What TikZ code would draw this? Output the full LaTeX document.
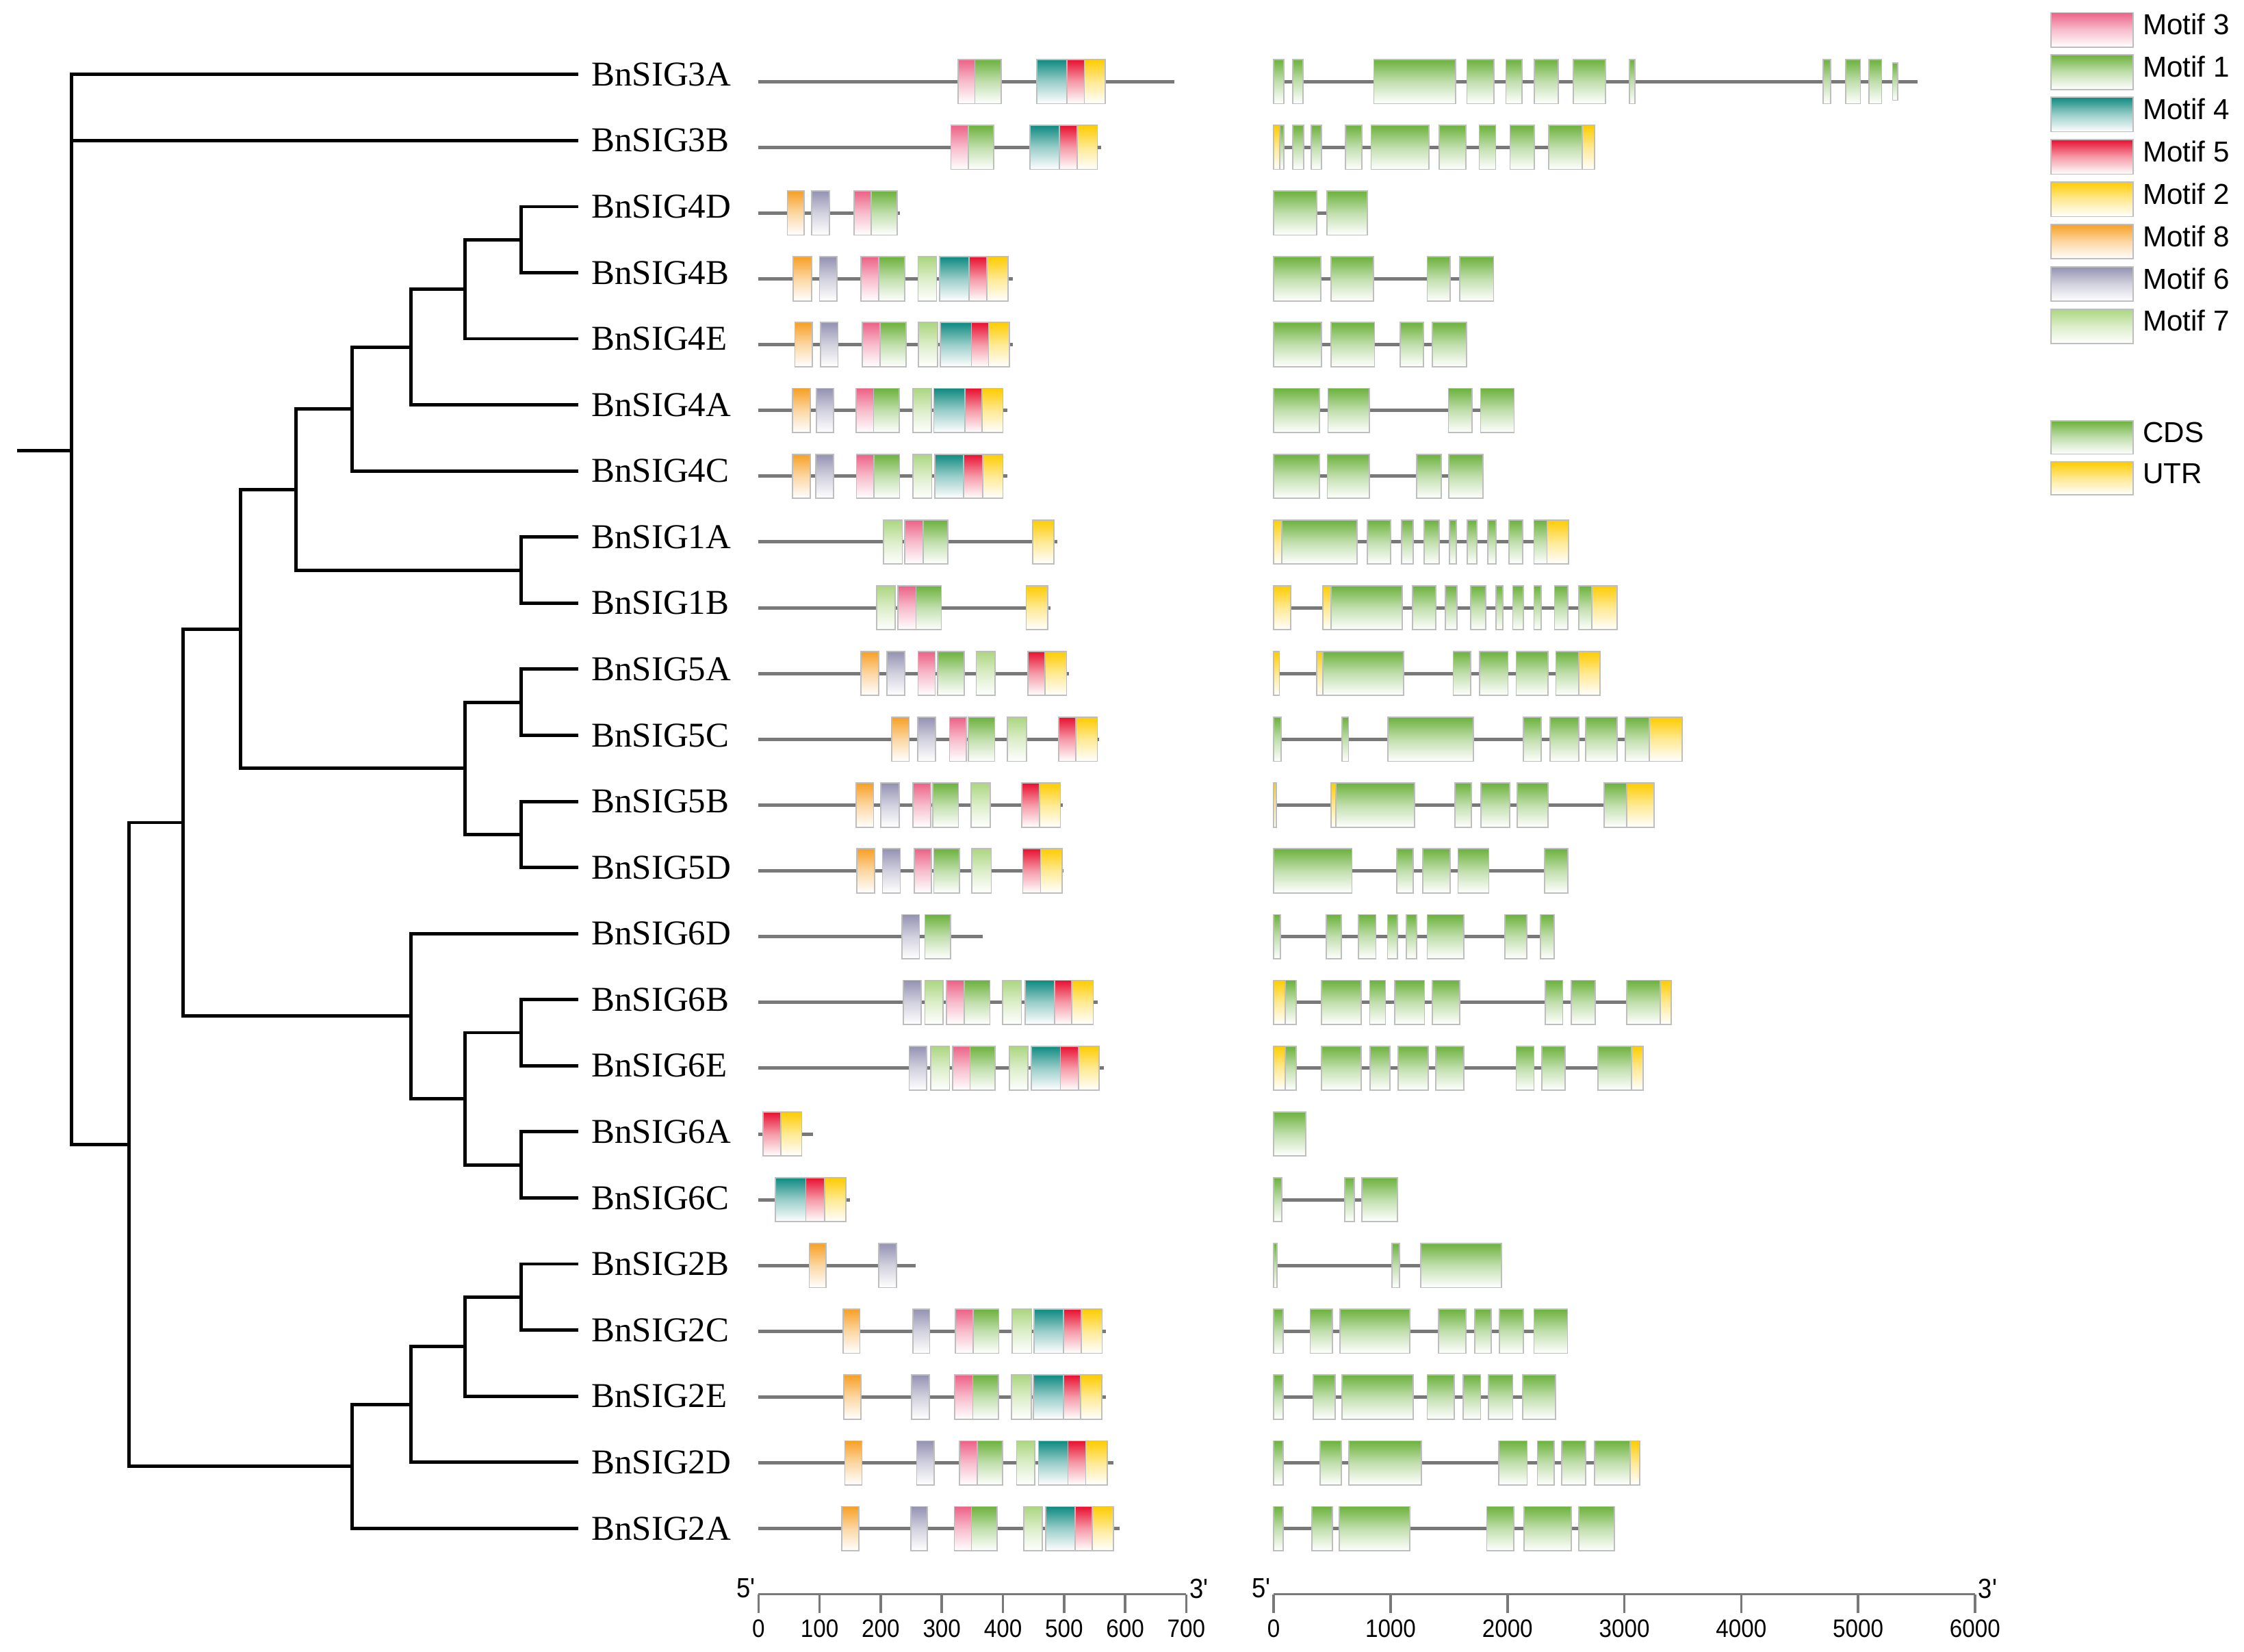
\documentclass[tikz,border=0pt]{standalone}
\usepackage{fontspec}
\setmainfont{Liberation Serif}
\setsansfont{Liberation Sans}

% motif colours
\definecolor{pk}{RGB}{236,98,134}   % motif 3
\definecolor{gn}{RGB}{108,178,60}   % motif 1 / CDS
\definecolor{tl}{RGB}{14,138,128}   % motif 4
\definecolor{rd}{RGB}{232,16,48}    % motif 5
\definecolor{yw}{RGB}{255,204,0}    % motif 2 / UTR
\definecolor{og}{RGB}{247,160,36}   % motif 8
\definecolor{gy}{RGB}{148,146,178}  % motif 6
\definecolor{lg}{RGB}{172,214,128}  % motif 7
\definecolor{edge}{RGB}{190,190,190}
\definecolor{intron}{RGB}{120,120,120}

\tikzset{
  branch/.style={line width=1.4pt, black},
  leaf/.style={anchor=west, inner xsep=5.3pt, inner ysep=0pt, font=\fontsize{14.5}{16}\selectfont},
  geneline/.style={line width=1.4pt, intron},
  box/.style={draw=edge, line width=0.5pt, top color=#1, bottom color=white, middle color=#1!42},
  axis/.style={line width=1pt, intron},
  legtext/.style={anchor=west, inner sep=0pt, font=\sffamily\fontsize{12}{14}\selectfont},
  ticktext/.style={inner sep=0pt, font=\sffamily\fontsize{10.5}{12}\selectfont},
  endtext/.style={inner sep=0pt, font=\sffamily\fontsize{11.5}{13}\selectfont}
}

% protein row: y, end of line, boxes
\newcommand{\protrow}[3]{%
  \draw[geneline] (530,#1) -- (#2,#1);
  \foreach \a/\b/\c in {#3}
    \draw[box=\c] (\a,#1-15.4) rectangle (\b,#1+15.4);
}
% gene row: y, end of line, exons
\newcommand{\generow}[3]{%
  \draw[geneline] (890,#1) -- (#2,#1);
  \foreach \a/\b/\c in {#3}
    \draw[box=\c] (\a,#1-15.4) rectangle (\b,#1+15.4);
}
\newcommand{\tick}[1]{\scalebox{0.9}[1]{#1}}

\begin{document}
\begin{tikzpicture}[x=0.020912cm, y=-0.020912cm]
\useasboundingbox (0,0) rectangle (1568,1154);

% gene names
\node[leaf] (l3A) at (404,52.0) {BnSIG3A};
\node[leaf] (l3B) at (404,98.2) {BnSIG3B};
\node[leaf] (l4D) at (404,144.4) {BnSIG4D};
\node[leaf] (l4B) at (404,190.5) {BnSIG4B};
\node[leaf] (l4E) at (404,236.7) {BnSIG4E};
\node[leaf] (l4A) at (404,282.9) {BnSIG4A};
\node[leaf] (l4C) at (404,329.1) {BnSIG4C};
\node[leaf] (l1A) at (404,375.3) {BnSIG1A};
\node[leaf] (l1B) at (404,421.4) {BnSIG1B};
\node[leaf] (l5A) at (404,467.6) {BnSIG5A};
\node[leaf] (l5C) at (404,513.8) {BnSIG5C};
\node[leaf] (l5B) at (404,560.0) {BnSIG5B};
\node[leaf] (l5D) at (404,606.2) {BnSIG5D};
\node[leaf] (l6D) at (404,652.3) {BnSIG6D};
\node[leaf] (l6B) at (404,698.5) {BnSIG6B};
\node[leaf] (l6E) at (404,744.7) {BnSIG6E};
\node[leaf] (l6A) at (404,790.9) {BnSIG6A};
\node[leaf] (l6C) at (404,837.1) {BnSIG6C};
\node[leaf] (l2B) at (404,883.2) {BnSIG2B};
\node[leaf] (l2C) at (404,929.4) {BnSIG2C};
\node[leaf] (l2E) at (404,975.6) {BnSIG2E};
\node[leaf] (l2D) at (404,1021.8) {BnSIG2D};
\node[leaf] (l2A) at (404,1068.0) {BnSIG2A};

% tree
\coordinate (root) at (12,315);
\coordinate (n1) at (50,315);
\coordinate (n2) at (90,799.8);
\coordinate (n3) at (128,574.8);
\coordinate (n4) at (168,439.5);
\coordinate (n5) at (207,342);
\coordinate (n6) at (246,285.8);
\coordinate (n7) at (287,242.5);
\coordinate (n8) at (325,202);
\coordinate (n9) at (364,167.5);
\coordinate (n10) at (364,398.4);
\coordinate (n11) at (325,536.9);
\coordinate (n12) at (364,490.7);
\coordinate (n13) at (364,583.1);
\coordinate (n14) at (287,710);
\coordinate (n15) at (325,767.8);
\coordinate (n16) at (364,721.6);
\coordinate (n17) at (364,814);
\coordinate (n18) at (246,1024.7);
\coordinate (n19) at (287,981.4);
\coordinate (n20) at (325,940.8);
\coordinate (n21) at (364,906.3);
\draw[branch] (root) -- (n1);
\draw[branch] (l3A.west) -| (n1) |- (n2);
\draw[branch] (l3B.west) -- (l3B.west -| n1);
\draw[branch] (n3) -| (n2) |- (n18);
\draw[branch] (n4) -| (n3) |- (n14);
\draw[branch] (n5) -| (n4) |- (n11);
\draw[branch] (n6) -| (n5) |- (n10);
\draw[branch] (n7) -| (n6) |- (l4C.west);
\draw[branch] (n8) -| (n7) |- (l4A.west);
\draw[branch] (n9) -| (n8) |- (l4E.west);
\draw[branch] (l4D.west) -| (n9) |- (l4B.west);
\draw[branch] (l1A.west) -| (n10) |- (l1B.west);
\draw[branch] (n12) -| (n11) |- (n13);
\draw[branch] (l5A.west) -| (n12) |- (l5C.west);
\draw[branch] (l5B.west) -| (n13) |- (l5D.west);
\draw[branch] (l6D.west) -| (n14) |- (n15);
\draw[branch] (n16) -| (n15) |- (n17);
\draw[branch] (l6B.west) -| (n16) |- (l6E.west);
\draw[branch] (l6A.west) -| (n17) |- (l6C.west);
\draw[branch] (n19) -| (n18) |- (l2A.west);
\draw[branch] (n20) -| (n19) |- (l2D.west);
\draw[branch] (n21) -| (n20) |- (l2E.west);
\draw[branch] (l2B.west) -| (n21) |- (l2C.west);

% conserved motifs
\protrow{57.0}{820.6}{669.5/681.2/pk, 681.2/699.6/gn, 724.6/745.5/tl, 745.5/757.7/rd, 757.7/772.2/yw}
\protrow{103.0}{769.4}{664.4/676.5/pk, 676.5/694.2/gn, 719.7/740.2/tl, 740.2/752.7/rd, 752.7/766.8/yw}
\protrow{148.9}{628.9}{550.1/561.9/og, 567.2/579.6/gy, 596.7/608.6/pk, 608.6/627.0/gn}
\protrow{194.9}{707.9}{554.4/567.2/og, 572.6/584.7/gy, 601.7/613.9/pk, 613.9/632.2/gn, 641.5/654.4/lg, 656.4/677.2/tl, 677.2/689.6/rd, 689.6/704.5/yw}
\protrow{240.8}{707.9}{555.4/567.7/og, 573.5/585.5/gy, 602.5/614.9/pk, 614.9/633.2/gn, 641.9/655.0/lg, 657.0/678.8/tl, 678.8/690.7/rd, 690.7/705.4/yw}
\protrow{286.8}{703.7}{553.8/566.2/og, 570.4/582.6/gy, 598.1/610.4/pk, 610.4/628.4/gn, 637.8/650.8/lg, 652.5/674.1/tl, 674.1/686.3/rd, 686.3/700.8/yw}
\protrow{332.8}{703.7}{553.8/566.2/og, 570.1/582.6/gy, 598.4/610.8/pk, 610.8/628.6/gn, 638.0/651.0/lg, 653.1/673.4/tl, 673.4/686.5/rd, 686.5/700.8/yw}
\protrow{378.7}{739.0}{617.2/630.5/lg, 632.2/645.0/pk, 645.0/662.4/gn, 721.6/736.5/yw}
\protrow{424.7}{733.8}{612.7/625.5/lg, 627.4/640.0/pk, 640.0/657.7/gn, 717.0/732.0/yw}
\protrow{470.6}{746.9}{601.5/613.9/og, 619.9/632.2/gy, 641.5/653.5/pk, 655.2/673.6/gn, 682.1/695.4/lg, 718.2/730.3/rd, 730.3/745.2/yw}
\protrow{516.6}{768.0}{623.2/635.3/og, 641.3/653.7/gy, 663.5/675.3/pk, 676.7/695.0/gn, 703.9/717.2/lg, 739.8/751.8/rd, 751.8/766.8/yw}
\protrow{562.6}{742.7}{598.1/610.4/og, 615.6/628.2/gy, 638.0/650.2/pk, 651.9/669.7/gn, 678.4/691.9/lg, 713.9/726.5/rd, 726.5/741.0/yw}
\protrow{608.5}{743.1}{598.6/611.0/og, 616.6/629.0/gy, 638.8/650.8/pk, 652.5/670.5/gn, 679.2/692.7/lg, 714.7/727.1/rd, 727.1/742.1/yw}
\protrow{654.5}{686.5}{630.1/642.5/gy, 646.3/664.1/gn}
\protrow{700.4}{767.0}{631.1/643.6/gy, 646.3/659.1/lg, 661.4/673.6/pk, 673.6/691.7/gn, 700.6/713.7/lg, 716.2/736.9/tl, 736.9/748.9/rd, 748.9/763.9/yw}
\protrow{746.4}{771.1}{635.3/647.5/gy, 650.2/663.5/lg, 665.8/677.8/pk, 677.8/695.4/gn, 705.4/718.2/lg, 720.7/741.0/tl, 741.0/753.5/rd, 753.5/768.0/yw}
\protrow{792.4}{567.9}{533.2/545.5/rd, 545.5/560.2/yw}
\protrow{838.3}{593.8}{541.9/563.1/tl, 563.1/576.2/rd, 576.2/590.9/yw}
\protrow{884.3}{639.8}{565.4/577.2/og, 614.1/626.6/gy}
\protrow{930.2}{772.8}{589.0/600.8/og, 637.8/649.6/gy, 667.4/680.1/pk, 680.1/697.9/gn, 707.2/720.9/lg, 722.4/743.1/tl, 743.1/755.6/rd, 755.6/770.1/yw}
\protrow{976.2}{772.8}{589.6/601.7/og, 636.9/649.2/gy, 667.0/679.7/pk, 679.7/697.5/gn, 706.8/720.7/lg, 722.0/743.1/tl, 743.1/755.1/rd, 755.1/769.7/yw}
\protrow{1022.2}{777.8}{590.3/602.3/og, 640.5/652.7/gy, 670.5/683.0/pk, 683.0/700.6/gn, 710.3/723.2/lg, 725.7/746.2/tl, 746.2/758.7/rd, 758.7/773.6/yw}
\protrow{1068.1}{782.1}{588.2/600.2/og, 636.3/648.1/gy, 666.8/678.8/pk, 678.8/696.7/gn, 715.3/728.2/lg, 730.7/751.4/tl, 751.4/763.2/rd, 763.2/777.9/yw}

% gene structures
\generow{57.0}{1340.0}{890/896.9/gn, 903.3/910.3/gn, 960/1017/gn, 1025/1043.9/gn, 1052.2/1063.4/gn, 1072/1088.7/gn, 1099.3/1121.7/gn, 1138.6/1142.5/gn, 1273.8/1279.2/gn, 1289.8/1300/gn, 1305.8/1314.8/gn}
\draw[box=gn] (1322.4,57-13) rectangle (1326,57+13);
\generow{103.0}{1114.3}{890/894.3/yw, 894.3/896.9/gn, 903.3/911/gn, 916.1/923.5/gn, 940.1/951.6/gn, 958/998.4/gn, 1005.7/1024.3/gn, 1033.6/1045.1/gn, 1055.1/1072/gn, 1082.3/1105.7/gn, 1105.7/1114.3/yw}
\generow{148.9}{955.5}{890/920/gn, 927.3/955.5/gn}
\generow{194.9}{1043.6}{890/922.8/gn, 929.9/959.8/gn, 997.3/1013.4/gn, 1019.8/1043.6/gn}
\generow{240.8}{1024.8}{890/923.5/gn, 930.2/960.4/gn, 978.2/994.6/gn, 1000.7/1024.8/gn}
\generow{286.8}{1058.0}{890/921.8/gn, 927.9/956.7/gn, 1012.1/1028.5/gn, 1034.6/1058/gn}
\generow{332.8}{1036.2}{890/921.8/gn, 927.5/956.7/gn, 990/1007.1/gn, 1012.4/1036.2/gn}
\generow{378.7}{1096.0}{890/895.7/yw, 895.7/948.3/gn, 955.4/971.5/gn, 979.2/987.3/gn, 995/1005.7/gn, 1012.8/1017.5/gn, 1025.2/1031.9/gn, 1039.6/1045.3/gn, 1054.4/1064.1/gn, 1071.8/1080.9/gn, 1080.9/1096/yw}
\generow{424.7}{1129.8}{890/902/yw, 924.2/930.2/yw, 930.2/979.9/gn, 986.9/1003.4/gn, 1010.1/1018.1/gn, 1027.5/1038.3/gn, 1045.3/1050/gn, 1057/1064.4/gn, 1071.8/1076.8/gn, 1086.2/1095.6/gn, 1103/1112.4/gn, 1112.4/1129.8/yw}
\generow{470.6}{1118.1}{890/894/yw, 920.2/924.2/yw, 924.2/980.6/gn, 1015.4/1027.5/gn, 1033.9/1053.7/gn, 1059.4/1081.5/gn, 1087.2/1103/gn, 1103/1118.1/yw}
\generow{516.6}{1175.5}{890/895.3/gn, 937.6/942.3/gn, 969.8/1029.5/gn, 1064.4/1076.8/gn, 1083.2/1103/gn, 1108/1129.8/gn, 1135.6/1152.3/gn, 1152.3/1175.5/yw}
\generow{562.6}{1155.7}{890/892/yw, 930.2/933.6/yw, 933.6/988.3/gn, 1016.8/1028.2/gn, 1034.9/1054.7/gn, 1060.1/1081.5/gn, 1120.8/1136.6/gn, 1136.6/1155.7/yw}
\generow{608.5}{1095.6}{890/944.7/gn, 975.9/987.6/gn, 994/1013.1/gn, 1018.8/1040.3/gn, 1079.2/1095.6/gn}
\generow{654.5}{1085.9}{890/894.7/gn, 926.9/937.3/gn, 949.3/961.4/gn, 969.5/976.5/gn, 982.6/989.9/gn, 997.3/1022.8/gn, 1051.7/1066.8/gn, 1076.5/1085.9/gn}
\generow{700.4}{1167.8}{890/898/yw, 898/905.7/gn, 923.5/951/gn, 957.1/968.1/gn, 974.5/995.3/gn, 1000.7/1019.8/gn, 1079.9/1091.9/gn, 1098/1114.7/gn, 1136.6/1160/gn, 1160/1167.8/yw}
\generow{746.4}{1148.0}{890/898/yw, 898/905.7/gn, 923.5/951/gn, 957.4/971.2/gn, 976.9/998/gn, 1003.4/1022.8/gn, 1059.4/1071.8/gn, 1077.2/1093.6/gn, 1116.4/1139.9/gn, 1139.9/1148/yw}
\generow{792.4}{912.4}{890/912.4/gn}
\generow{838.3}{976.5}{890/895.7/gn, 939.6/946.3/gn, 951.7/976.5/gn}
\generow{884.3}{1049.3}{890/892.3/gn, 972.5/977.9/gn, 992.6/1049.3/gn}
\generow{930.2}{1095.3}{890/896.7/gn, 915.5/930.9/gn, 936.3/984.9/gn, 1005/1024.2/gn, 1030.5/1041.9/gn, 1047.7/1064.4/gn, 1071.8/1095.3/gn}
\generow{976.2}{1086.9}{890/896.7/gn, 917.8/932.9/gn, 937.9/987.3/gn, 997.3/1016.1/gn, 1022.5/1034.6/gn, 1040/1057/gn, 1063.8/1086.9/gn}
\generow{1022.2}{1145.6}{890/896.7/gn, 922.5/937.3/gn, 942.6/993.3/gn, 1047.3/1067.1/gn, 1074.2/1085.9/gn, 1091.3/1108/gn, 1114.1/1138.9/gn, 1138.9/1145.6/yw}
\generow{1068.1}{1128.2}{890/896.7/gn, 916.8/930.9/gn, 935.9/985.2/gn, 1038.9/1057.7/gn, 1065.1/1098/gn, 1103.3/1128.2/gn}

% scale bars
\draw[axis] (530,1114) -- (828.9,1114);
\foreach \k/\t in {0/0, 1/100, 2/200, 3/300, 4/400, 5/500, 6/600, 7/700} {
  \draw[axis] (530+42.7*\k,1114) -- (530+42.7*\k,1127);
  \node[ticktext] (pa\k) at (530+42.7*\k,1138) {\tick{\t}};
}
\node[endtext, anchor=east] (p5) at (528,1110) {\tick{5\textquotesingle}};
\node[endtext, anchor=west] (p3) at (831,1110) {\tick{3\textquotesingle}};
\draw[axis] (890,1114) -- (1380,1114);
\foreach \k/\t in {0/0, 1/1000, 2/2000, 3/3000, 4/4000, 5/5000, 6/6000} {
  \draw[axis] (890+81.67*\k,1114) -- (890+81.67*\k,1127);
  \node[ticktext] (ga\k) at (890+81.67*\k,1138) {\tick{\t}};
}
\node[endtext, anchor=east] (g5) at (888,1110) {\tick{5\textquotesingle}};
\node[endtext, anchor=west] (g3) at (1382,1110) {\tick{3\textquotesingle}};

% legend
\foreach \c/\t [count=\k from 0] in {pk/Motif 3, gn/Motif 1, tl/Motif 4, rd/Motif 5, yw/Motif 2, og/Motif 8, gy/Motif 6, lg/Motif 7} {
  \draw[box=\c] (1433,8.8+29.6*\k) rectangle (1490.4,32.9+29.6*\k);
  \node[legtext] (leg\k) at (1497,17+29.6*\k) {\t};
}
\draw[box=gn] (1433,294.2) rectangle (1490.4,317.3);
\node[legtext] (cds) at (1497,302) {CDS};
\draw[box=yw] (1433,322.8) rectangle (1490.4,345.8);
\node[legtext] (utr) at (1497,331) {UTR};
\end{tikzpicture}
\end{document}
